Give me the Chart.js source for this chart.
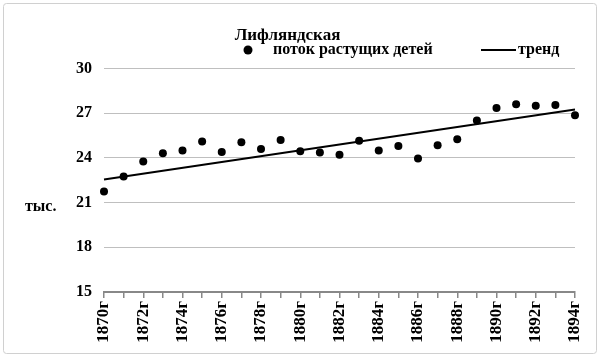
<!DOCTYPE html>
<html>
<head>
<meta charset="utf-8">
<script src="https://cdn.jsdelivr.net/npm/chart.js@4/dist/chart.umd.min.js"></script>
<style>
  html, body { margin: 0; padding: 0; background: #fff; }
</style>
</head>
<body>
<canvas id="chart" width="600" height="357"></canvas>
<script>
// years shown on the category axis
var years = ['1870г','1871г','1872г','1873г','1874г','1875г','1876г','1877г','1878г','1879г',
             '1880г','1881г','1882г','1883г','1884г','1885г','1886г','1887г','1888г','1889г',
             '1890г','1891г','1892г','1893г','1894г'];
// поток растущих детей, тыс.
var flow = [21.75, 22.75, 23.75, 24.3, 24.5, 25.1, 24.4, 25.05, 24.6, 25.2,
            24.45, 24.35, 24.2, 25.15, 24.5, 24.8, 23.95, 24.85, 25.25, 26.5,
            27.35, 27.6, 27.5, 27.55, 26.85];
// trend line ends
var trendYears = ['1870г', '1894г'];
var trendValues = [22.55, 27.25];
var yTicks = [15, 18, 21, 24, 27, 30];

var FONT = '"Liberation Serif", "Times New Roman", serif';

// legend + unit label + frame, drawn by hand to match the original
var extras = {
  id: 'extras',
  beforeDraw: function(chart) {
    var ctx = chart.ctx;
    ctx.save();
    ctx.fillStyle = '#fff';
    ctx.fillRect(0, 0, chart.width, chart.height);
    ctx.strokeStyle = '#d0d0d0';
    ctx.lineWidth = 1;
    ctx.beginPath();
    ctx.roundRect(3.5, 3.5, chart.width - 7, chart.height - 7, 3);
    ctx.stroke();
    ctx.restore();
  },
  afterDraw: function(chart) {
    var ctx = chart.ctx;
    ctx.save();
    ctx.fillStyle = '#000';
    ctx.font = 'bold 16px ' + FONT;
    ctx.textBaseline = 'middle';
    // dots
    ctx.beginPath();
    ctx.arc(248, 50, 4.5, 0, Math.PI * 2);
    ctx.fill();
    ctx.fillText('поток растущих детей', 273, 50);
    // line
    ctx.strokeStyle = '#000';
    ctx.lineWidth = 2;
    ctx.beginPath();
    ctx.moveTo(481, 50);
    ctx.lineTo(516, 50);
    ctx.stroke();
    ctx.fillText('тренд', 518, 50);
    // unit
    ctx.font = 'bold 16px ' + FONT;
    ctx.fillText('тыс.', 25, chart.scales.y.getPixelForValue(21) + 4);
    ctx.restore();
  }
};

var ctx = document.getElementById('chart').getContext('2d');
new Chart(ctx, {
  type: 'line',
  data: {
    labels: years,
    datasets: [
      {
        label: 'поток растущих детей',
        data: flow,
        showLine: false,
        pointRadius: 4,
        pointHoverRadius: 4,
        pointBackgroundColor: '#000',
        pointBorderColor: '#000',
        pointBorderWidth: 0
      },
      {
        label: 'тренд',
        data: trendYears.map(function(y, i) { return { x: y, y: trendValues[i] }; }),
        borderColor: '#000',
        borderWidth: 2,
        pointRadius: 0,
        fill: false
      }
    ]
  },
  options: {
    responsive: false,
    animation: false,
    layout: { padding: { left: 0, right: 25, top: 0, bottom: 0 } },
    plugins: {
      legend: { display: false },
      tooltip: { enabled: false },
      title: {
        display: true,
        text: 'Лифляндская',
        color: '#000',
        font: { family: FONT, size: 17, weight: 'bold' },
        padding: { top: 25, bottom: 23 }
      }
    },
    scales: {
      x: {
        type: 'category',
        offset: false,
        grid: { display: true, drawOnChartArea: false, drawTicks: true, tickLength: 6, color: '#888', lineWidth: 1.5 },
        border: { color: '#888', width: 2 },
        ticks: {
          autoSkip: false,
          maxRotation: 90,
          minRotation: 90,
          padding: 3,
          color: '#000',
          font: { family: FONT, size: 17, weight: 'bold' },
          callback: function(v, i) { return i % 2 === 0 ? this.getLabelForValue(v) : ''; }
        },
        afterFit: function(s) { s.height = 65; }
      },
      y: {
        min: yTicks[0],
        max: yTicks[yTicks.length - 1],
        grid: { color: '#bfbfbf', lineWidth: 1, drawTicks: false },
        border: { display: false },
        ticks: {
          stepSize: 3,
          padding: 12,
          color: '#000',
          font: { family: FONT, size: 16, weight: 'bold' }
        },
        afterFit: function(s) { s.width = 104; }
      }
    }
  },
  plugins: [extras]
});
</script>
</body>
</html>
